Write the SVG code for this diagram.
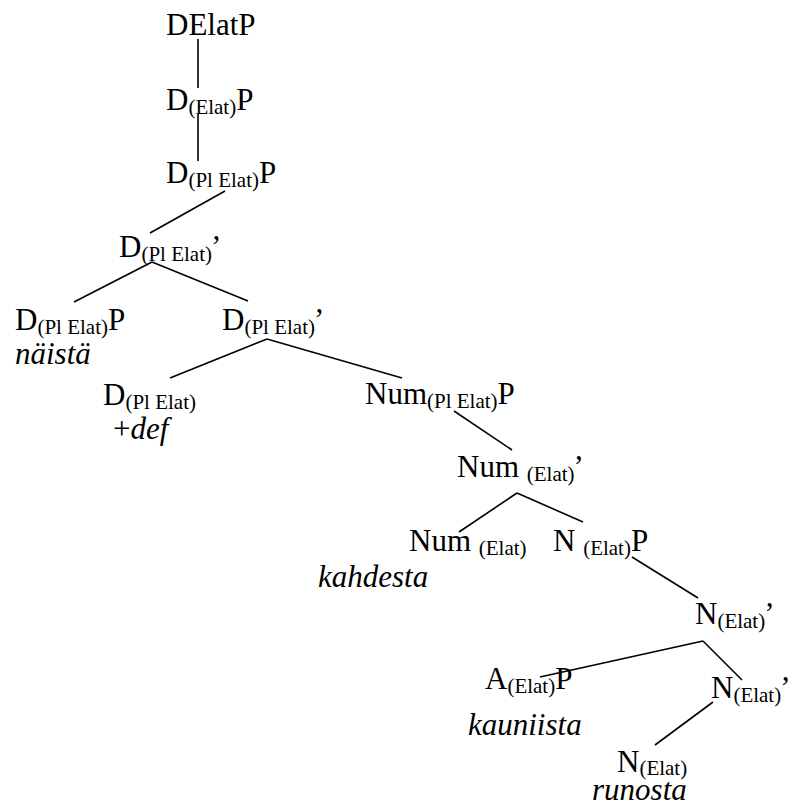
<svg xmlns="http://www.w3.org/2000/svg" width="790" height="812" viewBox="0 0 790 812">
  <style>
    .lbl { font-family: "Liberation Serif", "Times New Roman", serif; font-size: 31px; fill: #000; }
    .sub { font-size: 21px; }
    .word { font-style: italic; }
    .edge { stroke: #000; stroke-width: 1.6; fill: none; }
  </style>
  <rect width="790" height="812" fill="#fff"/>

  <g id="connectors">
    <line class="edge" x1="198" y1="39" x2="198" y2="88"/>
    <line class="edge" x1="198" y1="114" x2="198" y2="161"/>
    <line class="edge" x1="225" y1="191" x2="150" y2="233"/>
    <line class="edge" x1="152" y1="262" x2="74" y2="302"/>
    <line class="edge" x1="152" y1="262" x2="248" y2="301"/>
    <line class="edge" x1="267" y1="339" x2="170" y2="378"/>
    <line class="edge" x1="267" y1="339" x2="402" y2="378"/>
    <line class="edge" x1="454" y1="411" x2="512" y2="450"/>
    <line class="edge" x1="517" y1="493" x2="459" y2="532"/>
    <line class="edge" x1="517" y1="493" x2="583" y2="522"/>
    <line class="edge" x1="632" y1="557" x2="698" y2="598"/>
    <line class="edge" x1="703" y1="641" x2="540" y2="677"/>
    <line class="edge" x1="703" y1="641" x2="742" y2="680"/>
    <line class="edge" x1="713" y1="702" x2="655" y2="745"/>
  </g>

  <g id="n-delatp">
    <text class="lbl" x="166" y="35">DElatP</text>
  </g>
  <g id="n-d-elat-p">
    <text class="lbl" x="166" y="110">D<tspan class="sub" dy="4">(Elat)</tspan><tspan dy="-4">P</tspan></text>
  </g>
  <g id="n-d-plelat-p">
    <text class="lbl" x="166" y="183">D<tspan class="sub" dy="4">(Pl Elat)</tspan><tspan dy="-4">P</tspan></text>
  </g>
  <g id="n-d-plelat-bar1">
    <text class="lbl" x="119" y="257">D<tspan class="sub" dy="4">(Pl Elat)</tspan><tspan dy="-4" dx="-1">’</tspan></text>
  </g>
  <g id="n-d-plelat-p-spec">
    <text class="lbl" x="15" y="330">D<tspan class="sub" dy="4">(Pl Elat)</tspan><tspan dy="-4">P</tspan></text>
    <text class="lbl word" x="15" y="364">näistä</text>
  </g>
  <g id="n-d-plelat-bar2">
    <text class="lbl" x="222" y="330">D<tspan class="sub" dy="4">(Pl Elat)</tspan><tspan dy="-4" dx="-1">’</tspan></text>
  </g>
  <g id="n-d-plelat-head">
    <text class="lbl" x="103" y="405">D<tspan class="sub" dy="4">(Pl Elat)</tspan></text>
    <text class="lbl" x="113" y="439">+<tspan class="word">def</tspan></text>
  </g>
  <g id="n-num-plelat-p">
    <text class="lbl" x="365" y="404">Num<tspan class="sub" dy="4">(Pl Elat)</tspan><tspan dy="-4">P</tspan></text>
  </g>
  <g id="n-num-elat-bar">
    <text class="lbl" x="457" y="477">Num <tspan class="sub" dy="4">(Elat)</tspan><tspan dy="-4" dx="-1">’</tspan></text>
  </g>
  <g id="n-num-elat-head">
    <text class="lbl" x="409" y="551">Num <tspan class="sub" dy="4">(Elat)</tspan></text>
    <text class="lbl word" x="318" y="587">kahdesta</text>
  </g>
  <g id="n-n-elat-p">
    <text class="lbl" x="553" y="551">N <tspan class="sub" dy="4">(Elat)</tspan><tspan dy="-4">P</tspan></text>
  </g>
  <g id="n-n-elat-bar1">
    <text class="lbl" x="695" y="624">N<tspan class="sub" dy="4">(Elat)</tspan><tspan dy="-4" dx="-1">’</tspan></text>
  </g>
  <g id="n-a-elat-p">
    <text class="lbl" x="485" y="689">A<tspan class="sub" dy="4">(Elat)</tspan><tspan dy="-4">P</tspan></text>
    <text class="lbl word" x="468" y="735">kauniista</text>
  </g>
  <g id="n-n-elat-bar2">
    <text class="lbl" x="711" y="698">N<tspan class="sub" dy="4">(Elat)</tspan><tspan dy="-4" dx="-1">’</tspan></text>
  </g>
  <g id="n-n-elat-head">
    <text class="lbl" x="617" y="772">N<tspan class="sub" dy="3">(Elat)</tspan></text>
    <text class="lbl word" x="592" y="800">runosta</text>
  </g>
</svg>
